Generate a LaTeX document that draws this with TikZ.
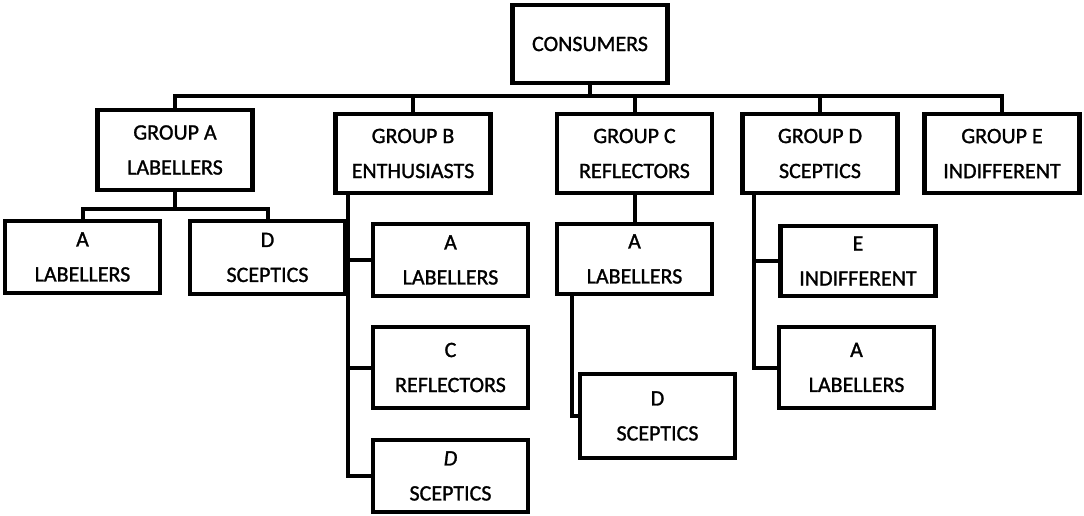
\documentclass[tikz,border=0pt]{standalone}
\usepackage{fontspec}
\setmainfont{Carlito}[FakeBold=1.3]
\newfontfamily\boxfont{Carlito}[RawFeature={embolden=1.2}]
\begin{document}
\begin{tikzpicture}[x=1pt,y=-1pt,
  catbox/.style={draw,line width=4.5pt,inner sep=0pt,align=center,
    font=\boxfont\fontsize{22}{35}\selectfont,minimum width=155pt},
  link/.style={line width=4pt,line cap=rect}]
\useasboundingbox (0,0) rectangle (1084,516);

% top level
\node[catbox,minimum height=78pt] (cons) at (590,44) {CONSUMERS};

% groups
\node[catbox,minimum height=80pt] (ga) at (175,150)   {GROUP A\\LABELLERS};
\node[catbox,minimum height=79pt] (gb) at (413,153.5) {GROUP B\\ENTHUSIASTS};
\node[catbox,minimum height=79pt] (gc) at (634.5,153.5) {GROUP C\\REFLECTORS};
\node[catbox,minimum height=79pt] (gd) at (820,153.5) {GROUP D\\SCEPTICS};
\node[catbox,minimum height=79pt] (ge) at (1002,153.5) {GROUP E\\INDIFFERENT};

% second level
\node[catbox,minimum height=72pt] (aa) at (82.5,257)  {A\\LABELLERS};
\node[catbox,minimum height=73pt] (ad) at (267.5,257.5) {D\\SCEPTICS};

\node[catbox,minimum height=72pt] (ba) at (450.5,260) {A\\LABELLERS};
\node[catbox,minimum height=81pt] (bc) at (450.5,367.5) {C\\REFLECTORS};
\node[catbox,minimum height=72pt] (bd) at (450.5,476) {\textit{D}\\SCEPTICS};

\node[catbox,minimum height=70pt] (ca) at (634.5,259) {A\\LABELLERS};
\node[catbox,minimum height=84pt] (cd) at (657.5,416) {D\\SCEPTICS};

\node[catbox,minimum height=70pt] (de) at (858,261) {E\\INDIFFERENT};
\node[catbox,minimum height=81pt] (da) at (856.5,367.5) {A\\LABELLERS};

% consumers to groups
\coordinate (bus) at (0,96);
\draw[link] (cons.south) -- (cons.south |- bus);
\draw[link] (ga.north) -- (ga.north |- bus) -- (ge.north |- bus) -- (ge.north);
\draw[link] (gb.north) -- (gb.north |- bus);
\draw[link] (gc.north) -- (gc.north |- bus);
\draw[link] (gd.north) -- (gd.north |- bus);

% group A
\coordinate (abus) at (0,209);
\draw[link] (ga.south) -- (ga.south |- abus);
\draw[link] (aa.north) -- (aa.north |- abus) -- (ad.north |- abus) -- (ad.north);

% group B
\coordinate (bstem) at ([xshift=15pt]gb.south west);
\draw[link] (bstem) |- (bd.west);
\draw[link] (ba.west) -- (ba.west -| bstem);
\draw[link] (bc.west) -- (bc.west -| bstem);

% group C
\draw[link] (gc.south) -- (ca.north);
\coordinate (cstem) at ([xshift=17pt]ca.south west);
\draw[link] (cstem) |- (cd.west);

% group D
\coordinate (dstem) at ([xshift=14pt]gd.south west);
\draw[link] (dstem) |- (da.west);
\draw[link] (de.west) -- (de.west -| dstem);
\end{tikzpicture}
\end{document}
